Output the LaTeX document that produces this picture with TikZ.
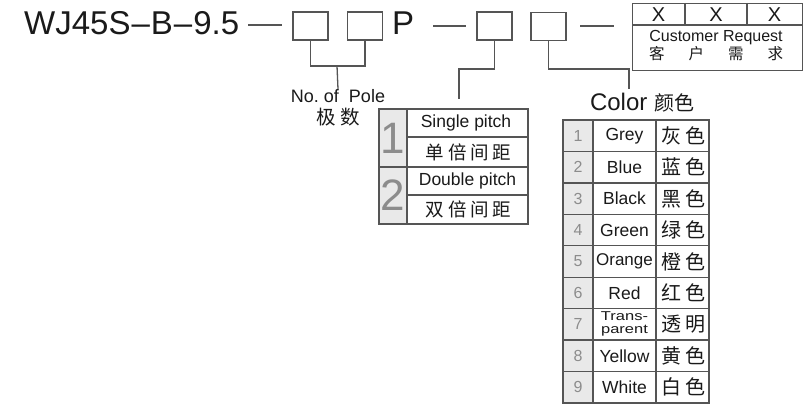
\documentclass[tikz,border=0pt]{standalone}
\usepackage{fontspec}
\setmainfont{Liberation Sans}
\newfontfamily\cjk{Noto Sans CJK SC}
\newfontfamily\cjkw[LetterSpace=20]{Noto Sans CJK SC}
\definecolor{lc}{HTML}{555555}
\definecolor{tc}{HTML}{1A1A1A}
\definecolor{numc}{HTML}{8C8C8C}
\definecolor{cellfill}{HTML}{E9E9E9}
\begin{document}
\begin{tikzpicture}[x=1pt,y=-1pt,
  ln/.style={draw=lc,line width=1.3pt},
  sq/.style={draw=lc,line width=1.3pt,minimum width=35pt,minimum height=28pt,inner sep=0pt},
  txt/.style={inner sep=0pt,text=tc},
  en/.style={txt,font=\fontsize{17.5}{17}\selectfont},
  zh/.style={txt,font=\fontsize{20}{20}\selectfont\cjkw},
  num/.style={txt,text=numc,font=\fontsize{16}{16}\selectfont},
  bignum/.style={txt,text=numc,font=\fontsize{44}{44}\selectfont},
]
\useasboundingbox (0,0) rectangle (810,406);
\fill[white] (0,0) rectangle (810,406);

% ---- code line ----
\node[txt,anchor=base west,font=\fontsize{33}{33}\selectfont] (code) at (24,35) {WJ45S\kern1pt–\kern1ptB\kern1pt–\kern1pt9.5};
\coordinate (d1a) at (248,25); \coordinate (d1b) at (282,25);
\draw[ln] (d1a) -- (d1b);
\node[sq] (b1) at (310.5,26) {};
\node[sq] (b2) at (365,26) {};
\node[txt,anchor=base west,font=\fontsize{33}{33}\selectfont] (P) at (392,35) {P};
\coordinate (d2a) at (433,26); \coordinate (d2b) at (466,26);
\draw[ln] (d2a) -- (d2b);
\node[sq] (b3) at (494.5,26) {};
\node[sq] (b4) at (548.5,26.5) {};
\coordinate (d3a) at (580,26); \coordinate (d3b) at (614,26);
\draw[ln] (d3a) -- (d3b);

% ---- customer request box ----
\node[draw=lc,line width=1.3pt,minimum width=170pt,minimum height=67pt,inner sep=0pt,anchor=north west] (cr) at (632,3) {};
\draw[ln] (632,25) -- (802,25);
\draw[ln] (685,3) -- (685,25);
\draw[ln] (747,3) -- (747,25);
\node[txt,font=\fontsize{20}{20}\selectfont] (x1) at (658.5,14.5) {X};
\node[txt,font=\fontsize{20}{20}\selectfont] (x2) at (716,14.5) {X};
\node[txt,font=\fontsize{20}{20}\selectfont] (x3) at (774.5,14.5) {X};
\node[txt,font=\fontsize{16}{16}\selectfont] (cre) at (716,37.5) {Customer Request};
\node[txt,font=\fontsize{15.5}{15}\selectfont\cjk] (crz) at (716,54) {\makebox[134pt][s]{客\hfill 户\hfill 需\hfill 求}};

% ---- No. of Pole ----
\node[txt,font=\fontsize{18}{18}\selectfont] (pole) at (338,96) {No.\ of\ \ Pole};
\node[txt,font=\fontsize{19.5}{19}\selectfont\cjk] (polez) at (338,117) {极\kern5pt 数};
\coordinate (j1) at (337,66);
\draw[ln] (b1.south) -- (b1.south |- j1) -| (b2.south);
\draw[ln] (j1) -- (pole.north);

% ---- pitch connector ----
\coordinate (p1) at (459,69);
\coordinate (p2) at (459,99);
\draw[ln] (b3.south) |- (p1) -- (p2);

% ---- color connector ----
\coordinate (c1) at (629,69);
\coordinate (c2) at (629,89);
\draw[ln] (b4.south) |- (c1) -- (c2);

% ---- pitch table ----
\fill[cellfill] (379,109) rectangle (407,224);
\draw[ln] (379,109) rectangle (528,224);
\draw[ln] (407,109) -- (407,224);
\draw[ln] (407,137) -- (528,137);
\draw[ln] (379,167) -- (528,167);
\draw[ln] (407,195) -- (528,195);
\node[bignum] (pn1) at (393,138) {1};
\node[bignum] (pn2) at (393,195.5) {2};
\node[en] (pe1) at (466,123) {Single pitch};
\node[zh,font=\fontsize{18.5}{18}\selectfont\cjkw] (pz1) at (468.5,152) {单倍间距};
\node[en] (pe2) at (467.5,181) {Double pitch};
\node[zh,font=\fontsize{18.5}{18}\selectfont\cjkw] (pz2) at (468.5,209.5) {双倍间距};

% ---- color table ----
\node[txt,anchor=base] (colt) at (642,111) {\fontsize{24}{24}\selectfont Color \fontsize{20}{20}\cjk 颜色};
\fill[cellfill] (563,120) rectangle (593,403);
\draw[ln] (563,120) rectangle (709,403);
\draw[ln] (593,120) -- (593,403);
\draw[ln] (656,120) -- (656,403);
\foreach \k in {1,...,8} {
  \draw[ln] (563,120+31.44*\k) -- (709,120+31.44*\k);
}
\foreach \k/\e/\z in {1/Grey/灰色,2/Blue/蓝色,3/Black/黑色,4/Green/绿色,6/Red/红色,8/Yellow/黄色,9/White/白色} {
  \node[num] (cn\k) at (578,120+31.44*\k-15.72) {\k};
  \node[en] (ce\k) at (624.5,120+31.44*\k-15.72) {\e};
  \node[zh] (cz\k) at (683,120+31.44*\k-15.72) {\z};
}
\node[num] (cn5) at (578,120+31.44*5-15.72) {5};
\node[en,font=\fontsize{17}{17}\selectfont] (ce5) at (624.5,120+31.44*5-15.72) {Orange};
\node[zh] (cz5) at (683,120+31.44*5-15.72) {橙色};
\node[num] (cn7) at (578,120+31.44*7-15.72) {7};
\node[txt] (ce7) at (624.5,120+31.44*7-15.72) {\scalebox{1}[0.78]{\fontsize{16.5}{16}\selectfont\begin{tabular}{@{}c@{}}Trans-\\parent\end{tabular}}};
\node[zh] (cz7) at (683,120+31.44*7-15.72) {透明};
\end{tikzpicture}
\end{document}
